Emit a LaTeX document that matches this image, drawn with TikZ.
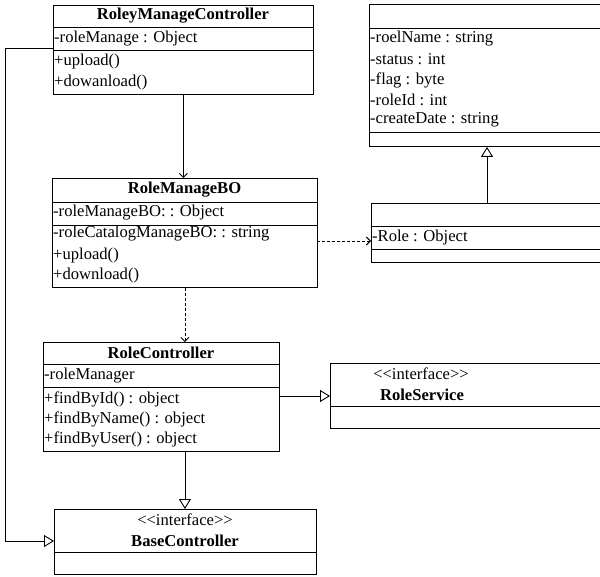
\documentclass[tikz,border=0pt]{standalone}
\usepackage{fontspec}
\setmainfont{Liberation Serif}
\usetikzlibrary{arrows.meta}
\newcommand{\stereo}[1]{<\kern0pt<#1>\kern0pt>}
\tikzset{
  umlbox/.style={draw, line width=0.9pt, rectangle, inner sep=0pt, anchor=north west},
  sepline/.style={line width=0.9pt},
  txt/.style={anchor=west, inner sep=1pt, font=\fontsize{16.6}{20}\selectfont},
  ctxt/.style={anchor=center, inner sep=0pt, font=\fontsize{16.6}{20}\selectfont},
  ttl/.style={anchor=center, inner sep=0pt, font=\fontsize{16.6}{20}\selectfont\bfseries},
  conn/.style={line width=0.9pt},
  tri/.style={conn, -{Triangle[open, length=10pt, width=12pt, fill=white]}},
  stick/.style={conn, -{Straight Barb[length=4pt, width=8pt]}},
  dsh/.style={dash pattern=on 3pt off 2pt}
}
\begin{document}
\begin{tikzpicture}[x=1pt, y=-1pt]
\useasboundingbox (0,0) rectangle (600,577);
\clip (0,0) rectangle (600,577);

% RoleyManageController
\node[umlbox, minimum width=260pt, minimum height=89pt] (rmc) at (53,5) {};
\draw[sepline] (53,27) -- (313,27);
\draw[sepline] (53,50) -- (313,50);
\node[ttl] (rmct) at (183,16) {RoleyManageController};
\node[txt] (rmca) at (53,38.5) {-roleManage : Object};
\node[txt] (rmcm1) at (53,62) {+upload()};
\node[txt] (rmcm2) at (53,83) {+dowanload()};

% Entity (no title)
\node[umlbox, minimum width=236pt, minimum height=142pt] (ent) at (369,4) {};
\draw[sepline] (369,28) -- (605,28);
\draw[sepline] (369,132) -- (605,132);
\node[txt] (ea1) at (369,39) {-roelName : string};
\node[txt] (ea2) at (369,59.5) {-status : int};
\node[txt] (ea3) at (369,80) {-flag : byte};
\node[txt] (ea4) at (369,100) {-roleId : int};
\node[txt] (ea5) at (369,120) {-createDate : string};

% Role holder (no title)
\node[umlbox, minimum width=234pt, minimum height=59pt] (role) at (371,203) {};
\draw[sepline] (371,226) -- (605,226);
\draw[sepline] (371,249) -- (605,249);
\node[txt] (ra) at (371,238) {-Role : Object};

% RoleManageBO
\node[umlbox, minimum width=265pt, minimum height=109pt] (rmbo) at (52,178) {};
\draw[sepline] (52,202) -- (317,202);
\draw[sepline] (52,225) -- (317,225);
\node[ttl] (rmbot) at (184.5,190) {RoleManageBO};
\node[txt] (rmboa1) at (52,212.5) {-roleManageBO: : Object};
\node[txt] (rmboa2) at (52,234) {-roleCatalogManageBO: : string};
\node[txt] (rmbom1) at (52,256) {+upload()};
\node[txt] (rmbom2) at (52,276) {+download()};

% RoleController
\node[umlbox, minimum width=236pt, minimum height=109pt] (rc) at (43,342) {};
\draw[sepline] (43,364) -- (279,364);
\draw[sepline] (43,387) -- (279,387);
\node[ttl] (rct) at (161,353) {RoleController};
\node[txt] (rca) at (43,376) {-roleManager};
\node[txt] (rcm1) at (43,399) {+findById() : object};
\node[txt] (rcm2) at (43,419) {+findByName() : object};
\node[txt] (rcm3) at (43,439) {+findByUser() : object};

% RoleService
\node[umlbox, minimum width=275pt, minimum height=65pt] (rs) at (330,363) {};
\draw[sepline] (330,406) -- (605,406);
\node[ctxt] (rss) at (421,374) {\stereo{interface}};
\node[ttl] (rsn) at (422,395) {RoleService};

% BaseController
\node[umlbox, minimum width=262pt, minimum height=65pt] (bc) at (54,509) {};
\draw[sepline] (54,552) -- (316,552);
\node[ctxt] (bcs) at (185,520) {\stereo{interface}};
\node[ttl] (bcn) at (185,541) {BaseController};

% connectors
\draw[stick] (rmc.south) -- (rmc.south |- rmbo.north);
\coordinate (d1) at (317,241);
\draw[stick, dsh] (d1) -- (d1 -| role.west);
\draw[stick, dsh] (rmbo.south) -- (rmbo.south |- rc.north);
\coordinate (c2) at (279,396);
\draw[tri] (c2) -- (c2 -| rs.west);
\draw[tri] (rmbo.south |- rc.south) -- (rmbo.south |- bc.north);
\coordinate (c3) at (487,203);
\draw[tri] (c3) -- (c3 |- ent.south);
\coordinate (l1) at (53,48);
\coordinate (l2) at (5,48);
\coordinate (l3) at (5,541);
\draw[tri] (l1) -- (l2) -- (l3) -- (l3 -| bc.west);
\end{tikzpicture}
\end{document}
